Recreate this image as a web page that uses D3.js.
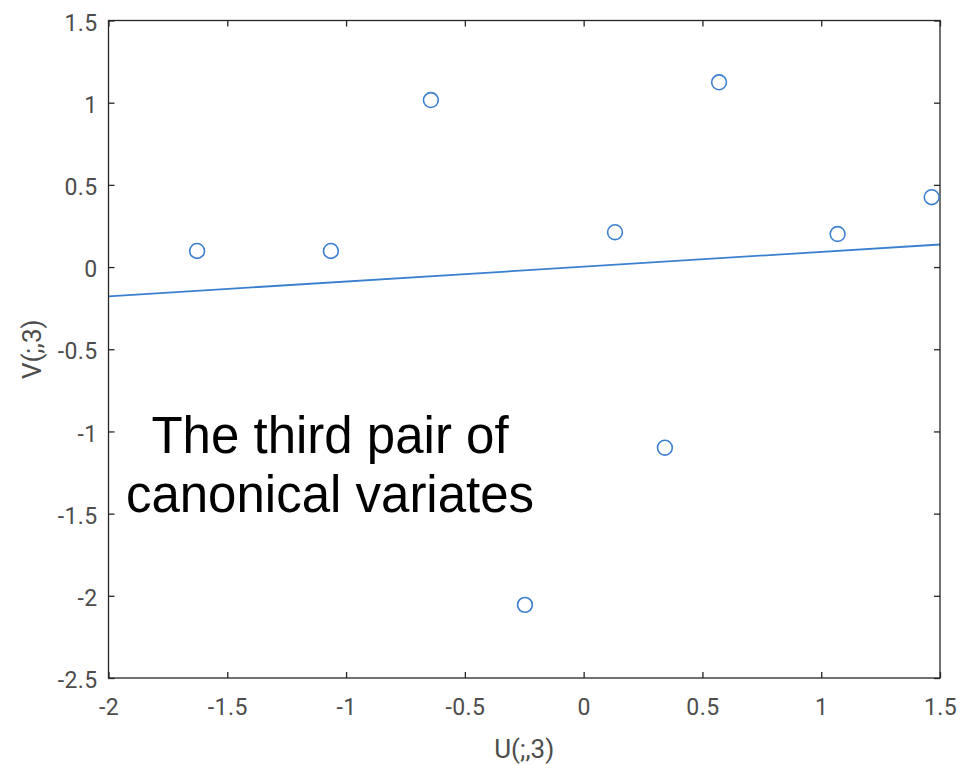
<!DOCTYPE html>
<html>
<head>
<meta charset="utf-8">
<script src="https://cdn.jsdelivr.net/npm/d3@7"></script>
<style>
  html, body { margin: 0; padding: 0; background: #fff; }
  svg { display: block; }
  .tick-label { font-family: Roboto, "Noto Sans", sans-serif; font-size: 23px; fill: #4d4d4d; letter-spacing: 0.4px; }
  .axis-title { font-family: Roboto, "Noto Sans", sans-serif; font-size: 26px; fill: #4d4d4d; }
  .note { font-family: "Liberation Sans", Arial, sans-serif; font-size: 51px; fill: #000; }
</style>
</head>
<body>
<script>
// Third pair of canonical variates: U(:,3) scores against V(:,3) scores
const uScores = [-1.627, -1.064, -0.643, -0.247, 0.132, 0.342, 0.570, 1.069, 1.465];
const vScores = [0.098, 0.098, 1.016, -2.055, 0.212, -1.099, 1.124, 0.201, 0.425];

const xTicks = [-2, -1.5, -1, -0.5, 0, 0.5, 1, 1.5];
const yTicks = [-2.5, -2, -1.5, -1, -0.5, 0, 0.5, 1, 1.5];
const noteLines = ["The third pair of", "canonical variates"];

(function () {
  const W = 960, H = 765;
  const pLeft = 108.5, pRight = 940, pTop = 20.5, pBottom = 678;
  const axisColor = "#262626";
  const markColor = "#3b7fcf";

  const svg = d3.select("body").append("svg").attr("width", W).attr("height", H);

  const x = d3.scaleLinear().domain([-2, 1.5]).range([pLeft, pRight]);
  const y = d3.scaleLinear().domain([-2.5, 1.5]).range([pBottom, pTop]);

  // least-squares line through the scores
  const mx = d3.mean(uScores), my = d3.mean(vScores);
  let sxy = 0, sxx = 0;
  uScores.forEach((u, i) => { sxy += (u - mx) * (vScores[i] - my); sxx += (u - mx) ** 2; });
  const slope = sxy / sxx, intercept = my - slope * mx;
  const xd = x.domain();

  svg.append("defs").append("clipPath").attr("id", "plot-clip")
    .append("rect").attr("x", pLeft).attr("y", pTop).attr("width", pRight - pLeft).attr("height", pBottom - pTop);

  svg.append("line")
    .attr("clip-path", "url(#plot-clip)")
    .attr("x1", x(xd[0])).attr("y1", y(intercept + slope * xd[0]))
    .attr("x2", x(xd[1])).attr("y2", y(intercept + slope * xd[1]))
    .attr("stroke", markColor).attr("stroke-width", 1.8);

  // axis box with inward ticks on all sides
  const tickLen = 6;
  const fmt = d3.format("");
  const axB = svg.append("g").attr("transform", `translate(0,${pBottom})`)
    .call(d3.axisBottom(x).tickValues(xTicks).tickSizeInner(-tickLen).tickSizeOuter(0).tickFormat(fmt));
  const axT = svg.append("g").attr("transform", `translate(0,${pTop})`)
    .call(d3.axisTop(x).tickValues(xTicks).tickSizeInner(-tickLen).tickSizeOuter(0).tickFormat(""));
  const axL = svg.append("g").attr("transform", `translate(${pLeft},0)`)
    .call(d3.axisLeft(y).tickValues(yTicks).tickSizeInner(-tickLen).tickSizeOuter(0).tickFormat(fmt));
  const axR = svg.append("g").attr("transform", `translate(${pRight},0)`)
    .call(d3.axisRight(y).tickValues(yTicks).tickSizeInner(-tickLen).tickSizeOuter(0).tickFormat(""));

  [axB, axT, axL, axR].forEach(g => {
    g.select(".domain").remove();
    g.selectAll(".tick line").attr("stroke", axisColor).attr("stroke-width", 1.3);
  });
  axB.selectAll(".tick text").attr("class", "tick-label").attr("y", 37).attr("dy", 0).text(d => String(d));
  axL.selectAll(".tick text").attr("class", "tick-label").attr("x", -11).attr("dy", "0.42em").text(d => String(d));

  svg.append("rect")
    .attr("x", pLeft).attr("y", pTop).attr("width", pRight - pLeft).attr("height", pBottom - pTop)
    .attr("fill", "none").attr("stroke", axisColor).attr("stroke-width", 1.3);

  // score markers
  svg.append("g").selectAll("circle").data(uScores).join("circle")
    .attr("cx", d => x(d))
    .attr("cy", (d, i) => y(vScores[i]))
    .attr("r", 7.4)
    .attr("fill", "none").attr("stroke", markColor).attr("stroke-width", 1.6);

  // axis titles
  svg.append("text").attr("class", "axis-title")
    .attr("x", (pLeft + pRight) / 2).attr("y", 758).attr("text-anchor", "middle").text("U(;,3)");
  svg.append("text").attr("class", "axis-title")
    .attr("transform", `translate(41,${(pTop + pBottom) / 2}) rotate(-90)`)
    .attr("text-anchor", "middle").text("V(;,3)");

  // annotation
  svg.append("g").selectAll("text").data(noteLines).join("text")
    .attr("class", "note")
    .attr("x", 330).attr("y", (d, i) => 453 + i * 59)
    .attr("text-anchor", "middle").text(d => d);
})();
</script>
</body>
</html>
